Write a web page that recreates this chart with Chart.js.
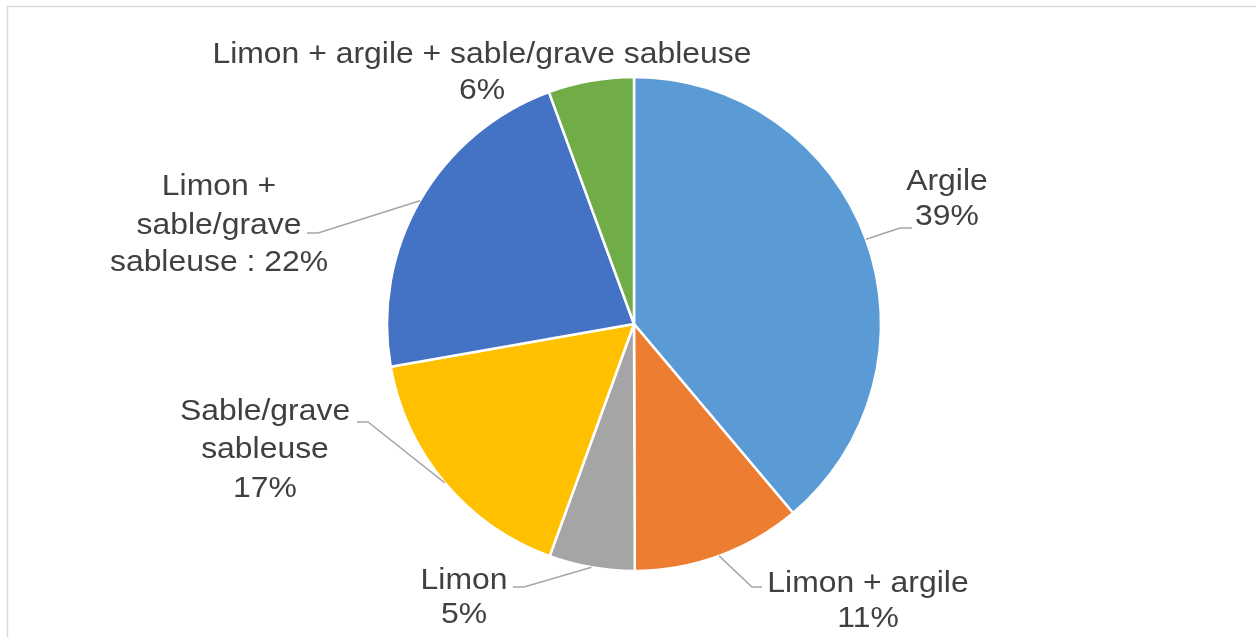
<!DOCTYPE html>
<html>
<head>
<meta charset="utf-8">
<script src="https://cdn.jsdelivr.net/npm/chart.js@4.4.1/dist/chart.umd.min.js"></script>
<style>
  html, body { margin: 0; padding: 0; background: #ffffff; }
  #wrap { position: relative; width: 1256px; height: 637px; }
</style>
</head>
<body>
<div id="wrap"><canvas id="c" width="1256" height="637"></canvas></div>
<script>
// ---- data ----
const categories = ["Argile", "Limon + argile", "Limon", "Sable/grave sableuse", "Limon + sable/grave sableuse", "Limon + argile + sable/grave sableuse"];
const shares = [38.9, 11.1, 5.6, 16.7, 22.2, 5.6];
const labelLines = [
  ["Argile", "39%"],
  ["Limon + argile", "11%"],
  ["Limon", "5%"],
  ["Sable/grave", "sableuse", "17%"],
  ["Limon +", "sable/grave", "sableuse : 22%"],
  ["Limon + argile + sable/grave sableuse", "6%"]
];
const colors = ["#5B9BD5", "#ED7D31", "#A5A5A5", "#FFC000", "#4472C4", "#70AD47"];

// ---- label layout (positions of data labels, like manually placed Excel labels) ----
const labelLayout = [
  { x: 947, y: [182, 217], bend: [900, 228], end: [912, 228] },
  { x: 868, y: [584, 619], bend: [752, 587], end: [762, 587] },
  { x: 464, y: [581, 615], bend: [524, 587], end: [513, 587] },
  { x: 265, y: [412, 450, 489], bend: [368, 422], end: [357, 422] },
  { x: 219, y: [187, 226, 263], bend: [318, 233], end: [307, 233] },
  { x: 482, y: [55, 91], bend: null, end: null }
];

const framePlugin = {
  id: 'frame',
  beforeDraw(chart) {
    const ctx = chart.ctx;
    ctx.save();
    ctx.strokeStyle = '#d9d9d9';
    ctx.lineWidth = 1.5;
    ctx.strokeRect(7.5, 6.5, 1400, 800);
    ctx.restore();
  }
};

const labelPlugin = {
  id: 'pieLabels',
  afterDatasetsDraw(chart) {
    const ctx = chart.ctx;
    const meta = chart.getDatasetMeta(0);
    ctx.save();
    meta.data.forEach((arc, i) => {
      const L = labelLayout[i];
      const p = arc.getProps(['x', 'y', 'startAngle', 'endAngle', 'outerRadius'], true);
      const mid = (p.startAngle + p.endAngle) / 2;
      if (L.bend) {
        const ax = p.x + Math.cos(mid) * p.outerRadius;
        const ay = p.y + Math.sin(mid) * p.outerRadius;
        ctx.strokeStyle = '#a6a6a6';
        ctx.lineWidth = 1.5;
        ctx.beginPath();
        ctx.moveTo(ax, ay);
        ctx.lineTo(L.bend[0], L.bend[1]);
        ctx.lineTo(L.end[0], L.end[1]);
        ctx.stroke();
      }
      ctx.fillStyle = '#404040';
      ctx.font = '29px "Liberation Sans", Arial, sans-serif';
      ctx.textAlign = 'center';
      ctx.textBaseline = 'middle';
      labelLines[i].forEach((t, j) => {
        ctx.save();
        ctx.translate(L.x, L.y[j]);
        ctx.scale(1.1, 1);
        ctx.fillText(t, 0, 0);
        ctx.restore();
      });
    });
    ctx.restore();
  }
};

new Chart(document.getElementById('c'), {
  type: 'pie',
  data: {
    labels: categories,
    datasets: [{
      data: shares,
      backgroundColor: colors,
      borderColor: '#ffffff',
      borderWidth: 2.5,
      hoverOffset: 0
    }]
  },
  options: {
    responsive: false,
    animation: false,
    radius: 247,
    layout: { padding: { left: 12, right: 0, top: 11, bottom: 0 } },
    plugins: { legend: { display: false }, tooltip: { enabled: false } },
    events: []
  },
  plugins: [framePlugin, labelPlugin]
});
</script>
</body>
</html>
